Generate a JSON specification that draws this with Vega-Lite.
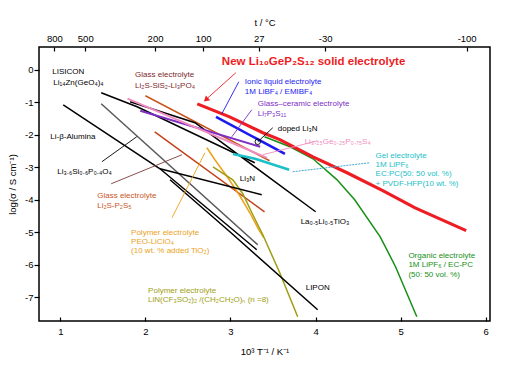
{
  "$schema": "https://vega.github.io/schema/vega-lite/v6.json",
  "autosize": {"type": "none"},
  "width": 451,
  "height": 274,
  "padding": {"left": 39, "top": 47, "right": 22, "bottom": 50},
  "background": "white",
  "config": {
    "view": {"stroke": "black", "strokeWidth": 1.5},
    "font": "Liberation Sans",
    "axis": {"domain": false, "grid": false, "tickColor": "black", "labelColor": "black", "titleColor": "black", "labelFont": "Liberation Sans", "titleFont": "Liberation Sans", "labelFontSize": 9.5, "titleFontSize": 9.5, "titleFontWeight": "normal", "tickWidth": 1.2}
  },
  "datasets": {
    "lines": [
      {"id": "lgps", "s": "LGPS", "x": 2.61, "y": -1.05},
      {"id": "lgps", "s": "LGPS", "x": 2.99, "y": -1.45},
      {"id": "lgps", "s": "LGPS", "x": 3.38, "y": -1.94},
      {"id": "lgps", "s": "LGPS", "x": 3.58, "y": -2.15},
      {"id": "lgps", "s": "LGPS", "x": 3.97, "y": -2.68},
      {"id": "lgps", "s": "LGPS", "x": 4.37, "y": -3.17},
      {"id": "lgps", "s": "LGPS", "x": 4.79, "y": -3.72},
      {"id": "lgps", "s": "LGPS", "x": 5.17, "y": -4.25},
      {"id": "lgps", "s": "LGPS", "x": 5.77, "y": -4.95},
      {"id": "org", "s": "Organic", "x": 3.40, "y": -2.06},
      {"id": "org", "s": "Organic", "x": 3.70, "y": -2.37},
      {"id": "org", "s": "Organic", "x": 3.97, "y": -2.74},
      {"id": "org", "s": "Organic", "x": 4.25, "y": -3.38},
      {"id": "org", "s": "Organic", "x": 4.46, "y": -4.0},
      {"id": "org", "s": "Organic", "x": 4.76, "y": -5.14},
      {"id": "org", "s": "Organic", "x": 4.94, "y": -6.06},
      {"id": "org", "s": "Organic", "x": 5.19, "y": -7.6},
      {"id": "ionic", "s": "Ionic", "x": 2.83, "y": -1.45},
      {"id": "ionic", "s": "Ionic", "x": 3.64, "y": -2.59},
      {"id": "gc", "s": "GlassCeramic", "x": 1.94, "y": -1.26},
      {"id": "gc", "s": "GlassCeramic", "x": 3.35, "y": -2.37},
      {"id": "thio", "s": "Thio", "x": 1.79, "y": -0.89},
      {"id": "thio", "s": "Thio", "x": 3.43, "y": -2.71},
      {"id": "gel", "s": "Gel", "x": 3.03, "y": -2.59},
      {"id": "gel", "s": "Gel", "x": 3.29, "y": -2.74},
      {"id": "gel", "s": "Gel", "x": 3.69, "y": -3.08},
      {"id": "sis2", "s": "SiS2", "x": 2.0, "y": -0.8},
      {"id": "sis2", "s": "SiS2", "x": 3.46, "y": -2.8},
      {"id": "p2s5", "s": "P2S5", "x": 2.11, "y": -1.91},
      {"id": "p2s5", "s": "P2S5", "x": 3.40, "y": -4.37},
      {"id": "peo", "s": "PEO", "x": 2.723, "y": -2.4},
      {"id": "peo", "s": "PEO", "x": 2.817, "y": -2.769},
      {"id": "peo", "s": "PEO", "x": 2.97, "y": -3.323},
      {"id": "peo", "s": "PEO", "x": 3.11, "y": -3.877},
      {"id": "peo", "s": "PEO", "x": 3.227, "y": -4.4},
      {"id": "peo", "s": "PEO", "x": 3.321, "y": -4.862},
      {"id": "peo", "s": "PEO", "x": 3.392, "y": -5.169},
      {"id": "peg", "s": "PEG", "x": 2.794, "y": -2.985},
      {"id": "peg", "s": "PEG", "x": 3.028, "y": -3.385},
      {"id": "peg", "s": "PEG", "x": 3.145, "y": -3.815},
      {"id": "peg", "s": "PEG", "x": 3.251, "y": -4.4},
      {"id": "peg", "s": "PEG", "x": 3.38, "y": -5.077},
      {"id": "peg", "s": "PEG", "x": 3.579, "y": -6.246},
      {"id": "peg", "s": "PEG", "x": 3.79, "y": -7.6},
      {"id": "lisipo", "s": "Gray", "x": 1.481, "y": -1.046},
      {"id": "lisipo", "s": "Gray", "x": 3.321, "y": -5.385},
      {"id": "lisicon", "s": "Black", "x": 1.481, "y": -0.708},
      {"id": "lisicon", "s": "Black", "x": 1.903, "y": -1.138},
      {"id": "lisicon", "s": "Black", "x": 3.286, "y": -2.862},
      {"id": "llto", "s": "Black", "x": 1.821, "y": -0.985},
      {"id": "llto", "s": "Black", "x": 2.583, "y": -1.631},
      {"id": "llto", "s": "Black", "x": 4.001, "y": -4.369},
      {"id": "libeta", "s": "Black", "x": 1.035, "y": -1.077},
      {"id": "libeta", "s": "Black", "x": 2.172, "y": -3.046},
      {"id": "libeta", "s": "Black", "x": 3.309, "y": -5.538},
      {"id": "li3n", "s": "Black", "x": 2.172, "y": -3.046},
      {"id": "li3n", "s": "Black", "x": 3.368, "y": -3.846},
      {"id": "lipon", "s": "Black", "x": 2.29, "y": -3.385},
      {"id": "lipon", "s": "Black", "x": 2.993, "y": -4.985},
      {"id": "lipon", "s": "Black", "x": 4.025, "y": -7.385}
    ],
    "pointers": [
      {"id": "p1", "s": "Ionic", "x": 3.098, "y": -0.369},
      {"id": "p1", "s": "Ionic", "x": 2.899, "y": -1.354},
      {"id": "p2", "s": "GlassCeramic", "x": 3.251, "y": -1.231},
      {"id": "p2", "s": "GlassCeramic", "x": 3.016, "y": -2.062},
      {"id": "p3", "s": "Thio", "x": 4.025, "y": -2.185},
      {"id": "p3", "s": "Thio", "x": 3.38, "y": -2.615},
      {"id": "p4", "s": "Black", "x": 3.497, "y": -1.785},
      {"id": "p4", "s": "Black", "x": 3.321, "y": -2.215},
      {"id": "p5", "s": "Black", "x": 1.489, "y": -2.83},
      {"id": "p5", "s": "Black", "x": 1.899, "y": -2.06},
      {"id": "p6", "s": "Maroon", "x": 1.598, "y": -3.508},
      {"id": "p6", "s": "Maroon", "x": 2.43, "y": -2.615},
      {"id": "p7", "s": "PEO", "x": 2.313, "y": -4.554},
      {"id": "p7", "s": "PEO", "x": 2.7, "y": -2.554},
      {"id": "p9", "s": "LGPS", "x": 3.063, "y": -0.092},
      {"id": "p9", "s": "LGPS", "x": 2.735, "y": -0.862}
    ],
    "gelptr": [
      {"id": "p8", "s": "GelPtr", "x": 3.731, "y": -3.138},
      {"id": "p8", "s": "GelPtr", "x": 4.634, "y": -2.862}
    ],
    "marks": [
      {"k": "arrow", "s": "LGPS", "x": 2.72, "y": -0.9},
      {"k": "doped", "s": "Black", "x": 3.321, "y": -2.215}
    ],
    "labels": [
      {"t": "LISICON", "s": "Black", "x": 0.906, "y": -0.062},
      {"t": "Li₁₄Zn(GeO₄)₄", "s": "Black", "x": 0.918, "y": -0.4},
      {"t": "Glass electrolyte", "s": "SiS2label", "x": 1.879, "y": -0.154},
      {"t": "Li₂S-SiS₂-Li₃PO₄", "s": "SiS2label", "x": 1.879, "y": -0.492},
      {"t": "Ionic liquid electrolyte", "s": "Ionic", "x": 3.169, "y": -0.369},
      {"t": "1M LiBF₄ / EMIBF₄", "s": "Ionic", "x": 3.169, "y": -0.677},
      {"t": "Glass–ceramic electrolyte", "s": "GlassCeramic", "x": 3.321, "y": -1.046},
      {"t": "Li₇P₃S₁₁", "s": "GlassCeramic", "x": 3.321, "y": -1.354},
      {"t": "doped Li₃N", "s": "Black", "x": 3.556, "y": -1.815},
      {"t": "Li₃.₂₅Ge₀.₂₅P₀.₇₅S₄", "s": "Thio", "x": 3.872, "y": -2.215},
      {"t": "Gel electrolyte", "s": "Gel", "x": 4.705, "y": -2.646},
      {"t": "1M LiPF₆", "s": "Gel", "x": 4.705, "y": -2.923},
      {"t": "EC:PC(50: 50 vol. %)", "s": "Gel", "x": 4.705, "y": -3.2},
      {"t": "+ PVDF-HFP(10 wt. %)", "s": "Gel", "x": 4.705, "y": -3.508},
      {"t": "Li-β-Alumina", "s": "Black", "x": 0.883, "y": -2.062},
      {"t": "Li₃.₆Si₀.₆P₀.₄O₄", "s": "Black", "x": 0.965, "y": -3.138},
      {"t": "Li₃N", "s": "Black", "x": 3.11, "y": -3.354},
      {"t": "Glass electrolyte", "s": "P2S5label", "x": 1.434, "y": -3.877},
      {"t": "Li₂S-P₂S₅", "s": "P2S5label", "x": 1.434, "y": -4.185},
      {"t": "Polymer electrolyte", "s": "PEO", "x": 1.832, "y": -5.015},
      {"t": "PEO-LiClO₄", "s": "PEO", "x": 1.832, "y": -5.292},
      {"t": "(10 wt. % added TiO₂)", "s": "PEO", "x": 1.832, "y": -5.569},
      {"t": "La₀.₅Li₀.₅TiO₃", "s": "Black", "x": 3.825, "y": -4.677},
      {"t": "Organic electrolyte", "s": "Organic", "x": 5.091, "y": -5.72},
      {"t": "1M LiPF₆ / EC-PC", "s": "Organic", "x": 5.091, "y": -6.0},
      {"t": "(50: 50 vol. %)", "s": "Organic", "x": 5.091, "y": -6.3},
      {"t": "LIPON", "s": "Black", "x": 3.884, "y": -6.708},
      {"t": "Polymer electrolyte", "s": "PEG", "x": 2.032, "y": -6.8},
      {"t": "LiN(CF₃SO₂)₂ /(CH₂CH₂O)ₙ (n =8)", "s": "PEG", "x": 2.032, "y": -7.077}
    ],
    "title": [
      {"t": "New Li₁₀GeP₂S₁₂ solid electrolyte", "s": "LGPS", "x": 2.899, "y": 0.246}
    ]
  },
  "encoding": {
    "y": {"field": "y", "type": "quantitative", "scale": {"domain": [-7.73, 0.7], "nice": false, "zero": false},
      "axis": {"orient": "left", "values": [-7, -6, -5, -4, -3, -2, -1, 0], "tickSize": 5, "labelPadding": 1, "labelExpr": "'' + datum.value", "title": "log(σ / S cm⁻¹)", "titlePadding": 7}}
  },
  "layer": [
    {
      "data": {"name": "lines"},
      "transform": [{"filter": {"field": "s", "oneOf": ["Black", "Gray", "Organic", "SiS2", "P2S5", "PEO", "PEG"]}}],
      "mark": {"type": "line", "strokeWidth": 1.5},
      "encoding": {
        "x": {"field": "x", "type": "quantitative", "scale": {"domain": [0.75, 6.05], "nice": false, "zero": false},
          "axis": {"orient": "bottom", "values": [1, 2, 3, 4, 5, 6], "tickSize": -4, "labelPadding": 9, "title": "10³ T⁻¹ / K⁻¹", "titlePadding": 11}},
        "detail": {"field": "id"},
        "color": {"field": "s", "type": "nominal", "legend": null,
          "scale": {"domain": ["LGPS", "Organic", "Ionic", "GlassCeramic", "Thio", "Gel", "SiS2", "SiS2label", "P2S5", "P2S5label", "PEO", "PEG", "Gray", "Black", "Maroon", "GelPtr"],
                    "range": ["#ee1d23", "#169016", "#1b1bf0", "#7d2ec4", "#f08cc0", "#1cc0c8", "#c8561b", "#7b2a2a", "#c4421a", "#c8561e", "#eba21a", "#9e9e12", "#5a5a5a", "#000000", "#7d3a3a", "#40a8d0"]}}
      }
    },
    {
      "data": {"name": "lines"},
      "transform": [{"filter": {"field": "s", "oneOf": ["GlassCeramic", "Thio"]}}],
      "mark": {"type": "line", "strokeWidth": 2},
      "encoding": {
        "x": {"field": "x", "type": "quantitative", "axis": null},
        "detail": {"field": "id"},
        "color": {"field": "s", "type": "nominal", "legend": null}
      }
    },
    {
      "data": {"name": "lines"},
      "transform": [{"filter": {"field": "s", "oneOf": ["Ionic", "Gel"]}}],
      "mark": {"type": "line", "strokeWidth": 2.6},
      "encoding": {
        "x": {"field": "x", "type": "quantitative", "axis": null},
        "detail": {"field": "id"},
        "color": {"field": "s", "type": "nominal", "legend": null}
      }
    },
    {
      "data": {"name": "lines"},
      "transform": [{"filter": {"field": "s", "equal": "LGPS"}}],
      "mark": {"type": "line", "strokeWidth": 3.2},
      "encoding": {
        "x": {"field": "x", "type": "quantitative", "axis": null},
        "detail": {"field": "id"},
        "color": {"field": "s", "type": "nominal", "legend": null}
      }
    },
    {
      "data": {"name": "pointers"},
      "mark": {"type": "line", "strokeWidth": 0.9},
      "encoding": {
        "x": {"field": "x", "type": "quantitative", "axis": null},
        "detail": {"field": "id"},
        "color": {"field": "s", "type": "nominal", "legend": null}
      }
    },
    {
      "data": {"name": "gelptr"},
      "mark": {"type": "line", "strokeWidth": 1, "strokeDash": [2, 1]},
      "encoding": {
        "x": {"field": "x", "type": "quantitative", "axis": null},
        "detail": {"field": "id"},
        "color": {"field": "s", "type": "nominal", "legend": null}
      }
    },
    {
      "data": {"name": "marks"},
      "transform": [{"filter": {"field": "k", "equal": "arrow"}}],
      "mark": {"type": "point", "shape": "triangle", "filled": true, "size": 40, "angle": 228, "opacity": 1},
      "encoding": {
        "x": {"field": "x", "type": "quantitative", "axis": null},
        "color": {"field": "s", "type": "nominal", "legend": null}
      }
    },
    {
      "data": {"name": "marks"},
      "transform": [{"filter": {"field": "k", "equal": "doped"}}],
      "mark": {"type": "point", "shape": "circle", "filled": false, "size": 30, "strokeWidth": 0.9, "opacity": 1},
      "encoding": {
        "x": {"field": "x", "type": "quantitative", "axis": null},
        "color": {"field": "s", "type": "nominal", "legend": null}
      }
    },
    {
      "data": {"name": "labels"},
      "mark": {"type": "text", "align": "left", "baseline": "middle", "fontSize": 8, "font": "Liberation Sans"},
      "encoding": {
        "x": {"field": "x", "type": "quantitative", "axis": null},
        "text": {"field": "t"},
        "color": {"field": "s", "type": "nominal", "legend": null}
      }
    },
    {
      "data": {"name": "title"},
      "mark": {"type": "text", "align": "left", "baseline": "middle", "fontSize": 11.5, "fontWeight": "bold", "font": "Liberation Sans"},
      "encoding": {
        "x": {"field": "x", "type": "quantitative",
          "axis": {"orient": "top", "values": [0.931866, 1.293410, 2.113494, 2.679887, 3.331668, 4.112688, 5.775339], "tickSize": -4, "labelPadding": 8, "labelExpr": "'' + round(1000 / datum.value - 273.15)", "title": "t / °C", "titlePadding": 6}},
        "text": {"field": "t"},
        "color": {"field": "s", "type": "nominal", "legend": null}
      }
    }
  ],
  "resolve": {"axis": {"x": "independent"}}
}
